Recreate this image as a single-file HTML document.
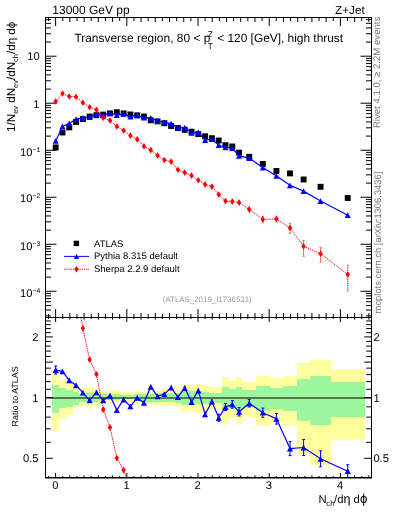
<!DOCTYPE html>
<html><head><meta charset="utf-8"><style>
html,body{margin:0;padding:0;background:#fff;}
body{width:393px;height:512px;overflow:hidden;}
svg{display:block;will-change:transform;}
text{font-family:"Liberation Sans",sans-serif;text-rendering:geometricPrecision;}
</style></head><body>
<svg width="393" height="512" viewBox="0 0 393 512">
<g shape-rendering="crispEdges"><rect x="52.29" y="373.3" width="6.79" height="57.3" fill="#ffff9e"/><rect x="59.08" y="380" width="6.79" height="39" fill="#ffff9e"/><rect x="65.88" y="382.9" width="6.79" height="31.8" fill="#ffff9e"/><rect x="72.67" y="386.4" width="6.79" height="22" fill="#ffff9e"/><rect x="79.46" y="388.1" width="6.79" height="17.9" fill="#ffff9e"/><rect x="86.25" y="388.3" width="6.79" height="18.4" fill="#ffff9e"/><rect x="93.04" y="388.5" width="6.79" height="16.9" fill="#ffff9e"/><rect x="99.84" y="391.2" width="6.79" height="12.3" fill="#ffff9e"/><rect x="106.63" y="391.2" width="6.79" height="12.3" fill="#ffff9e"/><rect x="113.42" y="390.2" width="6.79" height="12.1" fill="#ffff9e"/><rect x="120.21" y="392.1" width="6.79" height="9.5" fill="#ffff9e"/><rect x="127" y="392.1" width="6.79" height="9.5" fill="#ffff9e"/><rect x="133.8" y="391.5" width="6.79" height="12.1" fill="#ffff9e"/><rect x="140.59" y="391.5" width="6.79" height="12.1" fill="#ffff9e"/><rect x="147.38" y="390.9" width="6.79" height="12.7" fill="#ffff9e"/><rect x="154.17" y="390.5" width="6.79" height="14.4" fill="#ffff9e"/><rect x="160.96" y="389" width="6.79" height="17.2" fill="#ffff9e"/><rect x="167.76" y="389" width="6.79" height="17.2" fill="#ffff9e"/><rect x="174.55" y="389" width="6.79" height="17.8" fill="#ffff9e"/><rect x="181.34" y="385.8" width="6.79" height="25.7" fill="#ffff9e"/><rect x="188.13" y="384.5" width="6.79" height="26.7" fill="#ffff9e"/><rect x="194.92" y="383.7" width="6.79" height="29" fill="#ffff9e"/><rect x="201.72" y="385.3" width="6.79" height="24.4" fill="#ffff9e"/><rect x="208.51" y="387" width="6.79" height="22.2" fill="#ffff9e"/><rect x="215.3" y="387" width="6.79" height="22.2" fill="#ffff9e"/><rect x="222.09" y="377.1" width="6.79" height="46.4" fill="#ffff9e"/><rect x="228.88" y="380.9" width="6.79" height="37.5" fill="#ffff9e"/><rect x="235.68" y="377.1" width="6.79" height="46.4" fill="#ffff9e"/><rect x="242.47" y="382.2" width="13.58" height="35" fill="#ffff9e"/><rect x="256.05" y="376" width="13.58" height="50.2" fill="#ffff9e"/><rect x="269.64" y="378" width="13.58" height="44.3" fill="#ffff9e"/><rect x="283.22" y="375.7" width="13.58" height="50.4" fill="#ffff9e"/><rect x="296.8" y="363.4" width="13.58" height="90.5" fill="#ffff9e"/><rect x="310.39" y="360.3" width="20.38" height="104.6" fill="#ffff9e"/><rect x="330.76" y="369.1" width="33.96" height="70.9" fill="#ffff9e"/><rect x="52.29" y="384.9" width="6.79" height="27.9" fill="#9cf79c"/><rect x="59.08" y="388.2" width="6.79" height="19.9" fill="#9cf79c"/><rect x="65.88" y="390.1" width="6.79" height="16.5" fill="#9cf79c"/><rect x="72.67" y="392" width="6.79" height="12.5" fill="#9cf79c"/><rect x="79.46" y="392.9" width="6.79" height="9.1" fill="#9cf79c"/><rect x="86.25" y="392.8" width="6.79" height="9.5" fill="#9cf79c"/><rect x="93.04" y="393" width="6.79" height="9" fill="#9cf79c"/><rect x="99.84" y="394" width="6.79" height="6.4" fill="#9cf79c"/><rect x="106.63" y="394" width="6.79" height="6.4" fill="#9cf79c"/><rect x="113.42" y="394" width="6.79" height="5.7" fill="#9cf79c"/><rect x="120.21" y="395" width="6.79" height="4.1" fill="#9cf79c"/><rect x="127" y="395" width="6.79" height="4.1" fill="#9cf79c"/><rect x="133.8" y="393.8" width="6.79" height="7.3" fill="#9cf79c"/><rect x="140.59" y="393.8" width="6.79" height="7.3" fill="#9cf79c"/><rect x="147.38" y="393.5" width="6.79" height="8" fill="#9cf79c"/><rect x="154.17" y="393" width="6.79" height="9" fill="#9cf79c"/><rect x="160.96" y="392.8" width="6.79" height="9.6" fill="#9cf79c"/><rect x="167.76" y="392.8" width="6.79" height="9.6" fill="#9cf79c"/><rect x="174.55" y="392.5" width="6.79" height="10.5" fill="#9cf79c"/><rect x="181.34" y="390.5" width="6.79" height="14.5" fill="#9cf79c"/><rect x="188.13" y="390.6" width="6.79" height="14.5" fill="#9cf79c"/><rect x="194.92" y="391.4" width="6.79" height="13" fill="#9cf79c"/><rect x="201.72" y="392.1" width="6.79" height="11.5" fill="#9cf79c"/><rect x="208.51" y="392.9" width="6.79" height="9.9" fill="#9cf79c"/><rect x="215.3" y="392.9" width="6.79" height="9.9" fill="#9cf79c"/><rect x="222.09" y="387.3" width="6.79" height="22.5" fill="#9cf79c"/><rect x="228.88" y="389.2" width="6.79" height="18.4" fill="#9cf79c"/><rect x="235.68" y="387.3" width="6.79" height="22.5" fill="#9cf79c"/><rect x="242.47" y="389.8" width="13.58" height="17.2" fill="#9cf79c"/><rect x="256.05" y="386.2" width="13.58" height="24.6" fill="#9cf79c"/><rect x="269.64" y="387.6" width="13.58" height="21.7" fill="#9cf79c"/><rect x="283.22" y="386.4" width="13.58" height="24.4" fill="#9cf79c"/><rect x="296.8" y="378.9" width="13.58" height="42.5" fill="#9cf79c"/><rect x="310.39" y="376.4" width="20.38" height="48.9" fill="#9cf79c"/><rect x="330.76" y="381.8" width="33.96" height="34.7" fill="#9cf79c"/></g>
<line x1="45.5" y1="398" x2="371.5" y2="398" stroke="#000" stroke-width="1"/>
<g><line x1="45.5" y1="315.89" x2="51" y2="315.89" stroke="#000" stroke-width="1"/><line x1="371.5" y1="315.89" x2="366" y2="315.89" stroke="#000" stroke-width="1"/><line x1="45.5" y1="310.01" x2="51" y2="310.01" stroke="#000" stroke-width="1"/><line x1="371.5" y1="310.01" x2="366" y2="310.01" stroke="#000" stroke-width="1"/><line x1="45.5" y1="305.45" x2="51" y2="305.45" stroke="#000" stroke-width="1"/><line x1="371.5" y1="305.45" x2="366" y2="305.45" stroke="#000" stroke-width="1"/><line x1="45.5" y1="301.73" x2="51" y2="301.73" stroke="#000" stroke-width="1"/><line x1="371.5" y1="301.73" x2="366" y2="301.73" stroke="#000" stroke-width="1"/><line x1="45.5" y1="298.58" x2="51" y2="298.58" stroke="#000" stroke-width="1"/><line x1="371.5" y1="298.58" x2="366" y2="298.58" stroke="#000" stroke-width="1"/><line x1="45.5" y1="295.86" x2="51" y2="295.86" stroke="#000" stroke-width="1"/><line x1="371.5" y1="295.86" x2="366" y2="295.86" stroke="#000" stroke-width="1"/><line x1="45.5" y1="293.45" x2="51" y2="293.45" stroke="#000" stroke-width="1"/><line x1="371.5" y1="293.45" x2="366" y2="293.45" stroke="#000" stroke-width="1"/><line x1="45.5" y1="291.3" x2="56.5" y2="291.3" stroke="#000" stroke-width="1"/><line x1="371.5" y1="291.3" x2="360.5" y2="291.3" stroke="#000" stroke-width="1"/><line x1="45.5" y1="277.15" x2="51" y2="277.15" stroke="#000" stroke-width="1"/><line x1="371.5" y1="277.15" x2="366" y2="277.15" stroke="#000" stroke-width="1"/><line x1="45.5" y1="268.87" x2="51" y2="268.87" stroke="#000" stroke-width="1"/><line x1="371.5" y1="268.87" x2="366" y2="268.87" stroke="#000" stroke-width="1"/><line x1="45.5" y1="262.99" x2="51" y2="262.99" stroke="#000" stroke-width="1"/><line x1="371.5" y1="262.99" x2="366" y2="262.99" stroke="#000" stroke-width="1"/><line x1="45.5" y1="258.43" x2="51" y2="258.43" stroke="#000" stroke-width="1"/><line x1="371.5" y1="258.43" x2="366" y2="258.43" stroke="#000" stroke-width="1"/><line x1="45.5" y1="254.71" x2="51" y2="254.71" stroke="#000" stroke-width="1"/><line x1="371.5" y1="254.71" x2="366" y2="254.71" stroke="#000" stroke-width="1"/><line x1="45.5" y1="251.56" x2="51" y2="251.56" stroke="#000" stroke-width="1"/><line x1="371.5" y1="251.56" x2="366" y2="251.56" stroke="#000" stroke-width="1"/><line x1="45.5" y1="248.84" x2="51" y2="248.84" stroke="#000" stroke-width="1"/><line x1="371.5" y1="248.84" x2="366" y2="248.84" stroke="#000" stroke-width="1"/><line x1="45.5" y1="246.43" x2="51" y2="246.43" stroke="#000" stroke-width="1"/><line x1="371.5" y1="246.43" x2="366" y2="246.43" stroke="#000" stroke-width="1"/><line x1="45.5" y1="244.28" x2="56.5" y2="244.28" stroke="#000" stroke-width="1"/><line x1="371.5" y1="244.28" x2="360.5" y2="244.28" stroke="#000" stroke-width="1"/><line x1="45.5" y1="230.13" x2="51" y2="230.13" stroke="#000" stroke-width="1"/><line x1="371.5" y1="230.13" x2="366" y2="230.13" stroke="#000" stroke-width="1"/><line x1="45.5" y1="221.85" x2="51" y2="221.85" stroke="#000" stroke-width="1"/><line x1="371.5" y1="221.85" x2="366" y2="221.85" stroke="#000" stroke-width="1"/><line x1="45.5" y1="215.97" x2="51" y2="215.97" stroke="#000" stroke-width="1"/><line x1="371.5" y1="215.97" x2="366" y2="215.97" stroke="#000" stroke-width="1"/><line x1="45.5" y1="211.41" x2="51" y2="211.41" stroke="#000" stroke-width="1"/><line x1="371.5" y1="211.41" x2="366" y2="211.41" stroke="#000" stroke-width="1"/><line x1="45.5" y1="207.69" x2="51" y2="207.69" stroke="#000" stroke-width="1"/><line x1="371.5" y1="207.69" x2="366" y2="207.69" stroke="#000" stroke-width="1"/><line x1="45.5" y1="204.54" x2="51" y2="204.54" stroke="#000" stroke-width="1"/><line x1="371.5" y1="204.54" x2="366" y2="204.54" stroke="#000" stroke-width="1"/><line x1="45.5" y1="201.82" x2="51" y2="201.82" stroke="#000" stroke-width="1"/><line x1="371.5" y1="201.82" x2="366" y2="201.82" stroke="#000" stroke-width="1"/><line x1="45.5" y1="199.41" x2="51" y2="199.41" stroke="#000" stroke-width="1"/><line x1="371.5" y1="199.41" x2="366" y2="199.41" stroke="#000" stroke-width="1"/><line x1="45.5" y1="197.26" x2="56.5" y2="197.26" stroke="#000" stroke-width="1"/><line x1="371.5" y1="197.26" x2="360.5" y2="197.26" stroke="#000" stroke-width="1"/><line x1="45.5" y1="183.11" x2="51" y2="183.11" stroke="#000" stroke-width="1"/><line x1="371.5" y1="183.11" x2="366" y2="183.11" stroke="#000" stroke-width="1"/><line x1="45.5" y1="174.83" x2="51" y2="174.83" stroke="#000" stroke-width="1"/><line x1="371.5" y1="174.83" x2="366" y2="174.83" stroke="#000" stroke-width="1"/><line x1="45.5" y1="168.95" x2="51" y2="168.95" stroke="#000" stroke-width="1"/><line x1="371.5" y1="168.95" x2="366" y2="168.95" stroke="#000" stroke-width="1"/><line x1="45.5" y1="164.39" x2="51" y2="164.39" stroke="#000" stroke-width="1"/><line x1="371.5" y1="164.39" x2="366" y2="164.39" stroke="#000" stroke-width="1"/><line x1="45.5" y1="160.67" x2="51" y2="160.67" stroke="#000" stroke-width="1"/><line x1="371.5" y1="160.67" x2="366" y2="160.67" stroke="#000" stroke-width="1"/><line x1="45.5" y1="157.52" x2="51" y2="157.52" stroke="#000" stroke-width="1"/><line x1="371.5" y1="157.52" x2="366" y2="157.52" stroke="#000" stroke-width="1"/><line x1="45.5" y1="154.8" x2="51" y2="154.8" stroke="#000" stroke-width="1"/><line x1="371.5" y1="154.8" x2="366" y2="154.8" stroke="#000" stroke-width="1"/><line x1="45.5" y1="152.39" x2="51" y2="152.39" stroke="#000" stroke-width="1"/><line x1="371.5" y1="152.39" x2="366" y2="152.39" stroke="#000" stroke-width="1"/><line x1="45.5" y1="150.24" x2="56.5" y2="150.24" stroke="#000" stroke-width="1"/><line x1="371.5" y1="150.24" x2="360.5" y2="150.24" stroke="#000" stroke-width="1"/><line x1="45.5" y1="136.09" x2="51" y2="136.09" stroke="#000" stroke-width="1"/><line x1="371.5" y1="136.09" x2="366" y2="136.09" stroke="#000" stroke-width="1"/><line x1="45.5" y1="127.81" x2="51" y2="127.81" stroke="#000" stroke-width="1"/><line x1="371.5" y1="127.81" x2="366" y2="127.81" stroke="#000" stroke-width="1"/><line x1="45.5" y1="121.93" x2="51" y2="121.93" stroke="#000" stroke-width="1"/><line x1="371.5" y1="121.93" x2="366" y2="121.93" stroke="#000" stroke-width="1"/><line x1="45.5" y1="117.37" x2="51" y2="117.37" stroke="#000" stroke-width="1"/><line x1="371.5" y1="117.37" x2="366" y2="117.37" stroke="#000" stroke-width="1"/><line x1="45.5" y1="113.65" x2="51" y2="113.65" stroke="#000" stroke-width="1"/><line x1="371.5" y1="113.65" x2="366" y2="113.65" stroke="#000" stroke-width="1"/><line x1="45.5" y1="110.5" x2="51" y2="110.5" stroke="#000" stroke-width="1"/><line x1="371.5" y1="110.5" x2="366" y2="110.5" stroke="#000" stroke-width="1"/><line x1="45.5" y1="107.78" x2="51" y2="107.78" stroke="#000" stroke-width="1"/><line x1="371.5" y1="107.78" x2="366" y2="107.78" stroke="#000" stroke-width="1"/><line x1="45.5" y1="105.37" x2="51" y2="105.37" stroke="#000" stroke-width="1"/><line x1="371.5" y1="105.37" x2="366" y2="105.37" stroke="#000" stroke-width="1"/><line x1="45.5" y1="103.22" x2="56.5" y2="103.22" stroke="#000" stroke-width="1"/><line x1="371.5" y1="103.22" x2="360.5" y2="103.22" stroke="#000" stroke-width="1"/><line x1="45.5" y1="89.07" x2="51" y2="89.07" stroke="#000" stroke-width="1"/><line x1="371.5" y1="89.07" x2="366" y2="89.07" stroke="#000" stroke-width="1"/><line x1="45.5" y1="80.79" x2="51" y2="80.79" stroke="#000" stroke-width="1"/><line x1="371.5" y1="80.79" x2="366" y2="80.79" stroke="#000" stroke-width="1"/><line x1="45.5" y1="74.91" x2="51" y2="74.91" stroke="#000" stroke-width="1"/><line x1="371.5" y1="74.91" x2="366" y2="74.91" stroke="#000" stroke-width="1"/><line x1="45.5" y1="70.35" x2="51" y2="70.35" stroke="#000" stroke-width="1"/><line x1="371.5" y1="70.35" x2="366" y2="70.35" stroke="#000" stroke-width="1"/><line x1="45.5" y1="66.63" x2="51" y2="66.63" stroke="#000" stroke-width="1"/><line x1="371.5" y1="66.63" x2="366" y2="66.63" stroke="#000" stroke-width="1"/><line x1="45.5" y1="63.48" x2="51" y2="63.48" stroke="#000" stroke-width="1"/><line x1="371.5" y1="63.48" x2="366" y2="63.48" stroke="#000" stroke-width="1"/><line x1="45.5" y1="60.76" x2="51" y2="60.76" stroke="#000" stroke-width="1"/><line x1="371.5" y1="60.76" x2="366" y2="60.76" stroke="#000" stroke-width="1"/><line x1="45.5" y1="58.35" x2="51" y2="58.35" stroke="#000" stroke-width="1"/><line x1="371.5" y1="58.35" x2="366" y2="58.35" stroke="#000" stroke-width="1"/><line x1="45.5" y1="56.2" x2="56.5" y2="56.2" stroke="#000" stroke-width="1"/><line x1="371.5" y1="56.2" x2="360.5" y2="56.2" stroke="#000" stroke-width="1"/><line x1="45.5" y1="42.05" x2="51" y2="42.05" stroke="#000" stroke-width="1"/><line x1="371.5" y1="42.05" x2="366" y2="42.05" stroke="#000" stroke-width="1"/><line x1="45.5" y1="33.77" x2="51" y2="33.77" stroke="#000" stroke-width="1"/><line x1="371.5" y1="33.77" x2="366" y2="33.77" stroke="#000" stroke-width="1"/><line x1="45.5" y1="27.89" x2="51" y2="27.89" stroke="#000" stroke-width="1"/><line x1="371.5" y1="27.89" x2="366" y2="27.89" stroke="#000" stroke-width="1"/><line x1="45.5" y1="23.33" x2="51" y2="23.33" stroke="#000" stroke-width="1"/><line x1="371.5" y1="23.33" x2="366" y2="23.33" stroke="#000" stroke-width="1"/><line x1="45.5" y1="19.61" x2="51" y2="19.61" stroke="#000" stroke-width="1"/><line x1="371.5" y1="19.61" x2="366" y2="19.61" stroke="#000" stroke-width="1"/><line x1="48.48" y1="17.5" x2="48.48" y2="21" stroke="#000" stroke-width="1"/><line x1="48.48" y1="317.5" x2="48.48" y2="314" stroke="#000" stroke-width="1"/><line x1="48.48" y1="477.5" x2="48.48" y2="476" stroke="#000" stroke-width="1"/><line x1="48.48" y1="317.5" x2="48.48" y2="319" stroke="#000" stroke-width="1"/><line x1="55.6" y1="17.5" x2="55.6" y2="26" stroke="#000" stroke-width="1"/><line x1="55.6" y1="317.5" x2="55.6" y2="309" stroke="#000" stroke-width="1"/><line x1="55.6" y1="477.5" x2="55.6" y2="473" stroke="#000" stroke-width="1"/><line x1="55.6" y1="317.5" x2="55.6" y2="322" stroke="#000" stroke-width="1"/><line x1="62.72" y1="17.5" x2="62.72" y2="21" stroke="#000" stroke-width="1"/><line x1="62.72" y1="317.5" x2="62.72" y2="314" stroke="#000" stroke-width="1"/><line x1="62.72" y1="477.5" x2="62.72" y2="476" stroke="#000" stroke-width="1"/><line x1="62.72" y1="317.5" x2="62.72" y2="319" stroke="#000" stroke-width="1"/><line x1="69.84" y1="17.5" x2="69.84" y2="22" stroke="#000" stroke-width="1"/><line x1="69.84" y1="317.5" x2="69.84" y2="313" stroke="#000" stroke-width="1"/><line x1="69.84" y1="477.5" x2="69.84" y2="475.3" stroke="#000" stroke-width="1"/><line x1="69.84" y1="317.5" x2="69.84" y2="319.7" stroke="#000" stroke-width="1"/><line x1="76.96" y1="17.5" x2="76.96" y2="21" stroke="#000" stroke-width="1"/><line x1="76.96" y1="317.5" x2="76.96" y2="314" stroke="#000" stroke-width="1"/><line x1="76.96" y1="477.5" x2="76.96" y2="476" stroke="#000" stroke-width="1"/><line x1="76.96" y1="317.5" x2="76.96" y2="319" stroke="#000" stroke-width="1"/><line x1="84.08" y1="17.5" x2="84.08" y2="22" stroke="#000" stroke-width="1"/><line x1="84.08" y1="317.5" x2="84.08" y2="313" stroke="#000" stroke-width="1"/><line x1="84.08" y1="477.5" x2="84.08" y2="475.3" stroke="#000" stroke-width="1"/><line x1="84.08" y1="317.5" x2="84.08" y2="319.7" stroke="#000" stroke-width="1"/><line x1="91.2" y1="17.5" x2="91.2" y2="21" stroke="#000" stroke-width="1"/><line x1="91.2" y1="317.5" x2="91.2" y2="314" stroke="#000" stroke-width="1"/><line x1="91.2" y1="477.5" x2="91.2" y2="476" stroke="#000" stroke-width="1"/><line x1="91.2" y1="317.5" x2="91.2" y2="319" stroke="#000" stroke-width="1"/><line x1="98.32" y1="17.5" x2="98.32" y2="22" stroke="#000" stroke-width="1"/><line x1="98.32" y1="317.5" x2="98.32" y2="313" stroke="#000" stroke-width="1"/><line x1="98.32" y1="477.5" x2="98.32" y2="475.3" stroke="#000" stroke-width="1"/><line x1="98.32" y1="317.5" x2="98.32" y2="319.7" stroke="#000" stroke-width="1"/><line x1="105.44" y1="17.5" x2="105.44" y2="21" stroke="#000" stroke-width="1"/><line x1="105.44" y1="317.5" x2="105.44" y2="314" stroke="#000" stroke-width="1"/><line x1="105.44" y1="477.5" x2="105.44" y2="476" stroke="#000" stroke-width="1"/><line x1="105.44" y1="317.5" x2="105.44" y2="319" stroke="#000" stroke-width="1"/><line x1="112.56" y1="17.5" x2="112.56" y2="22" stroke="#000" stroke-width="1"/><line x1="112.56" y1="317.5" x2="112.56" y2="313" stroke="#000" stroke-width="1"/><line x1="112.56" y1="477.5" x2="112.56" y2="475.3" stroke="#000" stroke-width="1"/><line x1="112.56" y1="317.5" x2="112.56" y2="319.7" stroke="#000" stroke-width="1"/><line x1="119.68" y1="17.5" x2="119.68" y2="21" stroke="#000" stroke-width="1"/><line x1="119.68" y1="317.5" x2="119.68" y2="314" stroke="#000" stroke-width="1"/><line x1="119.68" y1="477.5" x2="119.68" y2="476" stroke="#000" stroke-width="1"/><line x1="119.68" y1="317.5" x2="119.68" y2="319" stroke="#000" stroke-width="1"/><line x1="126.8" y1="17.5" x2="126.8" y2="26" stroke="#000" stroke-width="1"/><line x1="126.8" y1="317.5" x2="126.8" y2="309" stroke="#000" stroke-width="1"/><line x1="126.8" y1="477.5" x2="126.8" y2="473" stroke="#000" stroke-width="1"/><line x1="126.8" y1="317.5" x2="126.8" y2="322" stroke="#000" stroke-width="1"/><line x1="133.92" y1="17.5" x2="133.92" y2="21" stroke="#000" stroke-width="1"/><line x1="133.92" y1="317.5" x2="133.92" y2="314" stroke="#000" stroke-width="1"/><line x1="133.92" y1="477.5" x2="133.92" y2="476" stroke="#000" stroke-width="1"/><line x1="133.92" y1="317.5" x2="133.92" y2="319" stroke="#000" stroke-width="1"/><line x1="141.04" y1="17.5" x2="141.04" y2="22" stroke="#000" stroke-width="1"/><line x1="141.04" y1="317.5" x2="141.04" y2="313" stroke="#000" stroke-width="1"/><line x1="141.04" y1="477.5" x2="141.04" y2="475.3" stroke="#000" stroke-width="1"/><line x1="141.04" y1="317.5" x2="141.04" y2="319.7" stroke="#000" stroke-width="1"/><line x1="148.16" y1="17.5" x2="148.16" y2="21" stroke="#000" stroke-width="1"/><line x1="148.16" y1="317.5" x2="148.16" y2="314" stroke="#000" stroke-width="1"/><line x1="148.16" y1="477.5" x2="148.16" y2="476" stroke="#000" stroke-width="1"/><line x1="148.16" y1="317.5" x2="148.16" y2="319" stroke="#000" stroke-width="1"/><line x1="155.28" y1="17.5" x2="155.28" y2="22" stroke="#000" stroke-width="1"/><line x1="155.28" y1="317.5" x2="155.28" y2="313" stroke="#000" stroke-width="1"/><line x1="155.28" y1="477.5" x2="155.28" y2="475.3" stroke="#000" stroke-width="1"/><line x1="155.28" y1="317.5" x2="155.28" y2="319.7" stroke="#000" stroke-width="1"/><line x1="162.4" y1="17.5" x2="162.4" y2="21" stroke="#000" stroke-width="1"/><line x1="162.4" y1="317.5" x2="162.4" y2="314" stroke="#000" stroke-width="1"/><line x1="162.4" y1="477.5" x2="162.4" y2="476" stroke="#000" stroke-width="1"/><line x1="162.4" y1="317.5" x2="162.4" y2="319" stroke="#000" stroke-width="1"/><line x1="169.52" y1="17.5" x2="169.52" y2="22" stroke="#000" stroke-width="1"/><line x1="169.52" y1="317.5" x2="169.52" y2="313" stroke="#000" stroke-width="1"/><line x1="169.52" y1="477.5" x2="169.52" y2="475.3" stroke="#000" stroke-width="1"/><line x1="169.52" y1="317.5" x2="169.52" y2="319.7" stroke="#000" stroke-width="1"/><line x1="176.64" y1="17.5" x2="176.64" y2="21" stroke="#000" stroke-width="1"/><line x1="176.64" y1="317.5" x2="176.64" y2="314" stroke="#000" stroke-width="1"/><line x1="176.64" y1="477.5" x2="176.64" y2="476" stroke="#000" stroke-width="1"/><line x1="176.64" y1="317.5" x2="176.64" y2="319" stroke="#000" stroke-width="1"/><line x1="183.76" y1="17.5" x2="183.76" y2="22" stroke="#000" stroke-width="1"/><line x1="183.76" y1="317.5" x2="183.76" y2="313" stroke="#000" stroke-width="1"/><line x1="183.76" y1="477.5" x2="183.76" y2="475.3" stroke="#000" stroke-width="1"/><line x1="183.76" y1="317.5" x2="183.76" y2="319.7" stroke="#000" stroke-width="1"/><line x1="190.88" y1="17.5" x2="190.88" y2="21" stroke="#000" stroke-width="1"/><line x1="190.88" y1="317.5" x2="190.88" y2="314" stroke="#000" stroke-width="1"/><line x1="190.88" y1="477.5" x2="190.88" y2="476" stroke="#000" stroke-width="1"/><line x1="190.88" y1="317.5" x2="190.88" y2="319" stroke="#000" stroke-width="1"/><line x1="198" y1="17.5" x2="198" y2="26" stroke="#000" stroke-width="1"/><line x1="198" y1="317.5" x2="198" y2="309" stroke="#000" stroke-width="1"/><line x1="198" y1="477.5" x2="198" y2="473" stroke="#000" stroke-width="1"/><line x1="198" y1="317.5" x2="198" y2="322" stroke="#000" stroke-width="1"/><line x1="205.12" y1="17.5" x2="205.12" y2="21" stroke="#000" stroke-width="1"/><line x1="205.12" y1="317.5" x2="205.12" y2="314" stroke="#000" stroke-width="1"/><line x1="205.12" y1="477.5" x2="205.12" y2="476" stroke="#000" stroke-width="1"/><line x1="205.12" y1="317.5" x2="205.12" y2="319" stroke="#000" stroke-width="1"/><line x1="212.24" y1="17.5" x2="212.24" y2="22" stroke="#000" stroke-width="1"/><line x1="212.24" y1="317.5" x2="212.24" y2="313" stroke="#000" stroke-width="1"/><line x1="212.24" y1="477.5" x2="212.24" y2="475.3" stroke="#000" stroke-width="1"/><line x1="212.24" y1="317.5" x2="212.24" y2="319.7" stroke="#000" stroke-width="1"/><line x1="219.36" y1="17.5" x2="219.36" y2="21" stroke="#000" stroke-width="1"/><line x1="219.36" y1="317.5" x2="219.36" y2="314" stroke="#000" stroke-width="1"/><line x1="219.36" y1="477.5" x2="219.36" y2="476" stroke="#000" stroke-width="1"/><line x1="219.36" y1="317.5" x2="219.36" y2="319" stroke="#000" stroke-width="1"/><line x1="226.48" y1="17.5" x2="226.48" y2="22" stroke="#000" stroke-width="1"/><line x1="226.48" y1="317.5" x2="226.48" y2="313" stroke="#000" stroke-width="1"/><line x1="226.48" y1="477.5" x2="226.48" y2="475.3" stroke="#000" stroke-width="1"/><line x1="226.48" y1="317.5" x2="226.48" y2="319.7" stroke="#000" stroke-width="1"/><line x1="233.6" y1="17.5" x2="233.6" y2="21" stroke="#000" stroke-width="1"/><line x1="233.6" y1="317.5" x2="233.6" y2="314" stroke="#000" stroke-width="1"/><line x1="233.6" y1="477.5" x2="233.6" y2="476" stroke="#000" stroke-width="1"/><line x1="233.6" y1="317.5" x2="233.6" y2="319" stroke="#000" stroke-width="1"/><line x1="240.72" y1="17.5" x2="240.72" y2="22" stroke="#000" stroke-width="1"/><line x1="240.72" y1="317.5" x2="240.72" y2="313" stroke="#000" stroke-width="1"/><line x1="240.72" y1="477.5" x2="240.72" y2="475.3" stroke="#000" stroke-width="1"/><line x1="240.72" y1="317.5" x2="240.72" y2="319.7" stroke="#000" stroke-width="1"/><line x1="247.84" y1="17.5" x2="247.84" y2="21" stroke="#000" stroke-width="1"/><line x1="247.84" y1="317.5" x2="247.84" y2="314" stroke="#000" stroke-width="1"/><line x1="247.84" y1="477.5" x2="247.84" y2="476" stroke="#000" stroke-width="1"/><line x1="247.84" y1="317.5" x2="247.84" y2="319" stroke="#000" stroke-width="1"/><line x1="254.96" y1="17.5" x2="254.96" y2="22" stroke="#000" stroke-width="1"/><line x1="254.96" y1="317.5" x2="254.96" y2="313" stroke="#000" stroke-width="1"/><line x1="254.96" y1="477.5" x2="254.96" y2="475.3" stroke="#000" stroke-width="1"/><line x1="254.96" y1="317.5" x2="254.96" y2="319.7" stroke="#000" stroke-width="1"/><line x1="262.08" y1="17.5" x2="262.08" y2="21" stroke="#000" stroke-width="1"/><line x1="262.08" y1="317.5" x2="262.08" y2="314" stroke="#000" stroke-width="1"/><line x1="262.08" y1="477.5" x2="262.08" y2="476" stroke="#000" stroke-width="1"/><line x1="262.08" y1="317.5" x2="262.08" y2="319" stroke="#000" stroke-width="1"/><line x1="269.2" y1="17.5" x2="269.2" y2="26" stroke="#000" stroke-width="1"/><line x1="269.2" y1="317.5" x2="269.2" y2="309" stroke="#000" stroke-width="1"/><line x1="269.2" y1="477.5" x2="269.2" y2="473" stroke="#000" stroke-width="1"/><line x1="269.2" y1="317.5" x2="269.2" y2="322" stroke="#000" stroke-width="1"/><line x1="276.32" y1="17.5" x2="276.32" y2="21" stroke="#000" stroke-width="1"/><line x1="276.32" y1="317.5" x2="276.32" y2="314" stroke="#000" stroke-width="1"/><line x1="276.32" y1="477.5" x2="276.32" y2="476" stroke="#000" stroke-width="1"/><line x1="276.32" y1="317.5" x2="276.32" y2="319" stroke="#000" stroke-width="1"/><line x1="283.44" y1="17.5" x2="283.44" y2="22" stroke="#000" stroke-width="1"/><line x1="283.44" y1="317.5" x2="283.44" y2="313" stroke="#000" stroke-width="1"/><line x1="283.44" y1="477.5" x2="283.44" y2="475.3" stroke="#000" stroke-width="1"/><line x1="283.44" y1="317.5" x2="283.44" y2="319.7" stroke="#000" stroke-width="1"/><line x1="290.56" y1="17.5" x2="290.56" y2="21" stroke="#000" stroke-width="1"/><line x1="290.56" y1="317.5" x2="290.56" y2="314" stroke="#000" stroke-width="1"/><line x1="290.56" y1="477.5" x2="290.56" y2="476" stroke="#000" stroke-width="1"/><line x1="290.56" y1="317.5" x2="290.56" y2="319" stroke="#000" stroke-width="1"/><line x1="297.68" y1="17.5" x2="297.68" y2="22" stroke="#000" stroke-width="1"/><line x1="297.68" y1="317.5" x2="297.68" y2="313" stroke="#000" stroke-width="1"/><line x1="297.68" y1="477.5" x2="297.68" y2="475.3" stroke="#000" stroke-width="1"/><line x1="297.68" y1="317.5" x2="297.68" y2="319.7" stroke="#000" stroke-width="1"/><line x1="304.8" y1="17.5" x2="304.8" y2="21" stroke="#000" stroke-width="1"/><line x1="304.8" y1="317.5" x2="304.8" y2="314" stroke="#000" stroke-width="1"/><line x1="304.8" y1="477.5" x2="304.8" y2="476" stroke="#000" stroke-width="1"/><line x1="304.8" y1="317.5" x2="304.8" y2="319" stroke="#000" stroke-width="1"/><line x1="311.92" y1="17.5" x2="311.92" y2="22" stroke="#000" stroke-width="1"/><line x1="311.92" y1="317.5" x2="311.92" y2="313" stroke="#000" stroke-width="1"/><line x1="311.92" y1="477.5" x2="311.92" y2="475.3" stroke="#000" stroke-width="1"/><line x1="311.92" y1="317.5" x2="311.92" y2="319.7" stroke="#000" stroke-width="1"/><line x1="319.04" y1="17.5" x2="319.04" y2="21" stroke="#000" stroke-width="1"/><line x1="319.04" y1="317.5" x2="319.04" y2="314" stroke="#000" stroke-width="1"/><line x1="319.04" y1="477.5" x2="319.04" y2="476" stroke="#000" stroke-width="1"/><line x1="319.04" y1="317.5" x2="319.04" y2="319" stroke="#000" stroke-width="1"/><line x1="326.16" y1="17.5" x2="326.16" y2="22" stroke="#000" stroke-width="1"/><line x1="326.16" y1="317.5" x2="326.16" y2="313" stroke="#000" stroke-width="1"/><line x1="326.16" y1="477.5" x2="326.16" y2="475.3" stroke="#000" stroke-width="1"/><line x1="326.16" y1="317.5" x2="326.16" y2="319.7" stroke="#000" stroke-width="1"/><line x1="333.28" y1="17.5" x2="333.28" y2="21" stroke="#000" stroke-width="1"/><line x1="333.28" y1="317.5" x2="333.28" y2="314" stroke="#000" stroke-width="1"/><line x1="333.28" y1="477.5" x2="333.28" y2="476" stroke="#000" stroke-width="1"/><line x1="333.28" y1="317.5" x2="333.28" y2="319" stroke="#000" stroke-width="1"/><line x1="340.4" y1="17.5" x2="340.4" y2="26" stroke="#000" stroke-width="1"/><line x1="340.4" y1="317.5" x2="340.4" y2="309" stroke="#000" stroke-width="1"/><line x1="340.4" y1="477.5" x2="340.4" y2="473" stroke="#000" stroke-width="1"/><line x1="340.4" y1="317.5" x2="340.4" y2="322" stroke="#000" stroke-width="1"/><line x1="347.52" y1="17.5" x2="347.52" y2="21" stroke="#000" stroke-width="1"/><line x1="347.52" y1="317.5" x2="347.52" y2="314" stroke="#000" stroke-width="1"/><line x1="347.52" y1="477.5" x2="347.52" y2="476" stroke="#000" stroke-width="1"/><line x1="347.52" y1="317.5" x2="347.52" y2="319" stroke="#000" stroke-width="1"/><line x1="354.64" y1="17.5" x2="354.64" y2="22" stroke="#000" stroke-width="1"/><line x1="354.64" y1="317.5" x2="354.64" y2="313" stroke="#000" stroke-width="1"/><line x1="354.64" y1="477.5" x2="354.64" y2="475.3" stroke="#000" stroke-width="1"/><line x1="354.64" y1="317.5" x2="354.64" y2="319.7" stroke="#000" stroke-width="1"/><line x1="361.76" y1="17.5" x2="361.76" y2="21" stroke="#000" stroke-width="1"/><line x1="361.76" y1="317.5" x2="361.76" y2="314" stroke="#000" stroke-width="1"/><line x1="361.76" y1="477.5" x2="361.76" y2="476" stroke="#000" stroke-width="1"/><line x1="361.76" y1="317.5" x2="361.76" y2="319" stroke="#000" stroke-width="1"/><line x1="368.88" y1="17.5" x2="368.88" y2="22" stroke="#000" stroke-width="1"/><line x1="368.88" y1="317.5" x2="368.88" y2="313" stroke="#000" stroke-width="1"/><line x1="368.88" y1="477.5" x2="368.88" y2="475.3" stroke="#000" stroke-width="1"/><line x1="368.88" y1="317.5" x2="368.88" y2="319.7" stroke="#000" stroke-width="1"/><line x1="45.5" y1="458.29" x2="52.8" y2="458.29" stroke="#000" stroke-width="1"/><line x1="371.5" y1="458.29" x2="364.2" y2="458.29" stroke="#000" stroke-width="1"/><line x1="45.5" y1="442.32" x2="50.8" y2="442.32" stroke="#000" stroke-width="1"/><line x1="371.5" y1="442.32" x2="366.2" y2="442.32" stroke="#000" stroke-width="1"/><line x1="45.5" y1="428.83" x2="50.8" y2="428.83" stroke="#000" stroke-width="1"/><line x1="371.5" y1="428.83" x2="366.2" y2="428.83" stroke="#000" stroke-width="1"/><line x1="45.5" y1="417.14" x2="50.8" y2="417.14" stroke="#000" stroke-width="1"/><line x1="371.5" y1="417.14" x2="366.2" y2="417.14" stroke="#000" stroke-width="1"/><line x1="45.5" y1="406.82" x2="50.8" y2="406.82" stroke="#000" stroke-width="1"/><line x1="371.5" y1="406.82" x2="366.2" y2="406.82" stroke="#000" stroke-width="1"/><line x1="45.5" y1="397.6" x2="52.8" y2="397.6" stroke="#000" stroke-width="1"/><line x1="371.5" y1="397.6" x2="364.2" y2="397.6" stroke="#000" stroke-width="1"/><line x1="45.5" y1="389.26" x2="50.8" y2="389.26" stroke="#000" stroke-width="1"/><line x1="371.5" y1="389.26" x2="366.2" y2="389.26" stroke="#000" stroke-width="1"/><line x1="45.5" y1="381.64" x2="50.8" y2="381.64" stroke="#000" stroke-width="1"/><line x1="371.5" y1="381.64" x2="366.2" y2="381.64" stroke="#000" stroke-width="1"/><line x1="45.5" y1="374.63" x2="50.8" y2="374.63" stroke="#000" stroke-width="1"/><line x1="371.5" y1="374.63" x2="366.2" y2="374.63" stroke="#000" stroke-width="1"/><line x1="45.5" y1="368.14" x2="50.8" y2="368.14" stroke="#000" stroke-width="1"/><line x1="371.5" y1="368.14" x2="366.2" y2="368.14" stroke="#000" stroke-width="1"/><line x1="45.5" y1="362.1" x2="52.8" y2="362.1" stroke="#000" stroke-width="1"/><line x1="371.5" y1="362.1" x2="364.2" y2="362.1" stroke="#000" stroke-width="1"/><line x1="45.5" y1="356.45" x2="50.8" y2="356.45" stroke="#000" stroke-width="1"/><line x1="371.5" y1="356.45" x2="366.2" y2="356.45" stroke="#000" stroke-width="1"/><line x1="45.5" y1="351.14" x2="50.8" y2="351.14" stroke="#000" stroke-width="1"/><line x1="371.5" y1="351.14" x2="366.2" y2="351.14" stroke="#000" stroke-width="1"/><line x1="45.5" y1="346.14" x2="50.8" y2="346.14" stroke="#000" stroke-width="1"/><line x1="371.5" y1="346.14" x2="366.2" y2="346.14" stroke="#000" stroke-width="1"/><line x1="45.5" y1="341.4" x2="50.8" y2="341.4" stroke="#000" stroke-width="1"/><line x1="371.5" y1="341.4" x2="366.2" y2="341.4" stroke="#000" stroke-width="1"/><line x1="45.5" y1="336.91" x2="52.8" y2="336.91" stroke="#000" stroke-width="1"/><line x1="371.5" y1="336.91" x2="364.2" y2="336.91" stroke="#000" stroke-width="1"/><line x1="45.5" y1="332.64" x2="50.8" y2="332.64" stroke="#000" stroke-width="1"/><line x1="371.5" y1="332.64" x2="366.2" y2="332.64" stroke="#000" stroke-width="1"/><line x1="45.5" y1="328.57" x2="50.8" y2="328.57" stroke="#000" stroke-width="1"/><line x1="371.5" y1="328.57" x2="366.2" y2="328.57" stroke="#000" stroke-width="1"/><line x1="45.5" y1="324.68" x2="50.8" y2="324.68" stroke="#000" stroke-width="1"/><line x1="371.5" y1="324.68" x2="366.2" y2="324.68" stroke="#000" stroke-width="1"/><line x1="45.5" y1="320.95" x2="50.8" y2="320.95" stroke="#000" stroke-width="1"/><line x1="371.5" y1="320.95" x2="366.2" y2="320.95" stroke="#000" stroke-width="1"/></g>
<rect x="45.5" y="17.5" width="326" height="300" fill="none" stroke="#000" stroke-width="1"/>
<rect x="45.5" y="317.5" width="326" height="160" fill="none" stroke="#000" stroke-width="1"/>
<line x1="45" y1="477.9" x2="372" y2="477.9" stroke="#000" stroke-width="1.2"/>
<defs><clipPath id="cm"><rect x="45.5" y="17.5" width="326" height="300"/></clipPath><clipPath id="cr"><rect x="45.5" y="317.5" width="326" height="160"/></clipPath></defs>
<g clip-path="url(#cm)"><rect x="52.74" y="144.45" width="5.9" height="5.9" fill="#000"/><rect x="59.53" y="129.55" width="5.9" height="5.9" fill="#000"/><rect x="66.32" y="124.45" width="5.9" height="5.9" fill="#000"/><rect x="73.11" y="118.95" width="5.9" height="5.9" fill="#000"/><rect x="79.91" y="116.15" width="5.9" height="5.9" fill="#000"/><rect x="86.7" y="113.55" width="5.9" height="5.9" fill="#000"/><rect x="93.49" y="112.25" width="5.9" height="5.9" fill="#000"/><rect x="100.28" y="111.65" width="5.9" height="5.9" fill="#000"/><rect x="107.07" y="110.45" width="5.9" height="5.9" fill="#000"/><rect x="113.87" y="109.25" width="5.9" height="5.9" fill="#000"/><rect x="120.66" y="110.45" width="5.9" height="5.9" fill="#000"/><rect x="127.45" y="111.55" width="5.9" height="5.9" fill="#000"/><rect x="134.24" y="112.35" width="5.9" height="5.9" fill="#000"/><rect x="141.03" y="113.55" width="5.9" height="5.9" fill="#000"/><rect x="147.83" y="117.35" width="5.9" height="5.9" fill="#000"/><rect x="154.62" y="118.45" width="5.9" height="5.9" fill="#000"/><rect x="161.41" y="120.25" width="5.9" height="5.9" fill="#000"/><rect x="168.2" y="123.05" width="5.9" height="5.9" fill="#000"/><rect x="174.99" y="125.05" width="5.9" height="5.9" fill="#000"/><rect x="181.79" y="126.85" width="5.9" height="5.9" fill="#000"/><rect x="188.58" y="128.75" width="5.9" height="5.9" fill="#000"/><rect x="195.37" y="131.15" width="5.9" height="5.9" fill="#000"/><rect x="202.16" y="133.35" width="5.9" height="5.9" fill="#000"/><rect x="208.95" y="135.25" width="5.9" height="5.9" fill="#000"/><rect x="215.75" y="137.55" width="5.9" height="5.9" fill="#000"/><rect x="222.54" y="142.25" width="5.9" height="5.9" fill="#000"/><rect x="229.33" y="143.55" width="5.9" height="5.9" fill="#000"/><rect x="236.12" y="149.65" width="5.9" height="5.9" fill="#000"/><rect x="246.31" y="153.85" width="5.9" height="5.9" fill="#000"/><rect x="259.89" y="161.05" width="5.9" height="5.9" fill="#000"/><rect x="273.48" y="168.05" width="5.9" height="5.9" fill="#000"/><rect x="287.06" y="170.45" width="5.9" height="5.9" fill="#000"/><rect x="300.65" y="176.55" width="5.9" height="5.9" fill="#000"/><rect x="317.63" y="183.85" width="5.9" height="5.9" fill="#000"/><rect x="344.79" y="195.05" width="5.9" height="5.9" fill="#000"/><polyline points="55.69,140.96 62.48,126.37 69.27,123.39 76.06,119.03 82.86,117.93 89.65,117.13 96.44,113.99 103.23,115.23 110.02,112.96 116.82,115.12 123.61,113.84 130.4,116.53 137.19,115.37 143.98,117.71 150.78,117.78 157.57,121.1 164.36,122.38 171.15,123.67 177.94,127.91 184.74,127.56 191.53,132.75 198.32,132.47 205.11,140.2 211.9,139.13 218.7,145.21 225.49,147.39 232.28,148.09 239.07,155.91 249.26,158.13 262.84,167.52 276.43,175.94 290.01,185.29 303.6,191.14 320.58,201.07 347.74,215.17" fill="none" stroke="#00f" stroke-width="1.2"/><path d="M52.64 143.86L58.74 143.86L55.69 138.07Z" fill="#00f"/><path d="M59.43 129.26L65.53 129.26L62.48 123.47Z" fill="#00f"/><path d="M66.22 126.29L72.32 126.29L69.27 120.49Z" fill="#00f"/><path d="M73.01 121.93L79.11 121.93L76.06 116.13Z" fill="#00f"/><path d="M79.81 120.83L85.91 120.83L82.86 115.04Z" fill="#00f"/><path d="M86.6 120.03L92.7 120.03L89.65 114.23Z" fill="#00f"/><path d="M93.39 116.88L99.49 116.88L96.44 111.09Z" fill="#00f"/><path d="M100.18 118.13L106.28 118.13L103.23 112.33Z" fill="#00f"/><path d="M106.97 115.85L113.07 115.85L110.02 110.06Z" fill="#00f"/><path d="M113.77 118.01L119.87 118.01L116.82 112.22Z" fill="#00f"/><path d="M120.56 116.74L126.66 116.74L123.61 110.95Z" fill="#00f"/><path d="M127.35 119.43L133.45 119.43L130.4 113.63Z" fill="#00f"/><path d="M134.14 118.27L140.24 118.27L137.19 112.47Z" fill="#00f"/><path d="M140.93 120.61L147.03 120.61L143.98 114.82Z" fill="#00f"/><path d="M147.73 120.68L153.83 120.68L150.78 114.88Z" fill="#00f"/><path d="M154.52 123.99L160.62 123.99L157.57 118.2Z" fill="#00f"/><path d="M161.31 125.28L167.41 125.28L164.36 119.49Z" fill="#00f"/><path d="M168.1 126.57L174.2 126.57L171.15 120.77Z" fill="#00f"/><path d="M174.89 130.8L180.99 130.8L177.94 125.01Z" fill="#00f"/><path d="M181.69 130.46L187.79 130.46L184.74 124.66Z" fill="#00f"/><path d="M188.48 135.65L194.58 135.65L191.53 129.85Z" fill="#00f"/><path d="M195.27 135.36L201.37 135.36L198.32 129.57Z" fill="#00f"/><path d="M202.06 143.09L208.16 143.09L205.11 137.3Z" fill="#00f"/><path d="M208.85 142.03L214.95 142.03L211.9 136.24Z" fill="#00f"/><path d="M215.65 148.11L221.75 148.11L218.7 142.31Z" fill="#00f"/><path d="M222.44 150.29L228.54 150.29L225.49 144.49Z" fill="#00f"/><path d="M229.23 150.98L235.33 150.98L232.28 145.19Z" fill="#00f"/><path d="M236.02 158.81L242.12 158.81L239.07 153.01Z" fill="#00f"/><path d="M246.21 161.03L252.31 161.03L249.26 155.23Z" fill="#00f"/><path d="M259.79 170.42L265.89 170.42L262.84 164.62Z" fill="#00f"/><path d="M273.38 178.84L279.48 178.84L276.43 173.05Z" fill="#00f"/><path d="M286.96 188.19L293.06 188.19L290.01 182.4Z" fill="#00f"/><path d="M300.55 194.04L306.65 194.04L303.6 188.24Z" fill="#00f"/><path d="M317.53 203.97L323.63 203.97L320.58 198.18Z" fill="#00f"/><path d="M344.69 218.06L350.79 218.06L347.74 212.27Z" fill="#00f"/><polyline points="55.69,101.5 62.48,93.5 69.27,96.5 76.06,96.7 82.86,102.8 89.65,107.3 96.44,109.7 103.23,117.6 110.02,120.5 116.82,126.5 123.61,130.5 130.4,135.6 137.19,139.4 143.98,146.3 150.78,150.1 157.57,155.5 164.36,160 171.15,161.6 177.94,169.8 184.74,172.6 191.53,175.6 198.32,180.2 205.11,184.4 211.9,186.6 218.7,194.5 225.49,201 232.28,201.5 239.07,202.6 249.26,209.4 262.84,219.4 276.43,219 290.01,227.9 303.6,246.2 320.58,253.7 347.74,274.5" fill="none" stroke="#f00" stroke-width="1" stroke-dasharray="1.3,0.9"/><line x1="225.49" y1="199.5" x2="225.49" y2="202.5" stroke="#f00" stroke-width="1" stroke-dasharray="1.3,0.9"/><line x1="232.28" y1="200" x2="232.28" y2="203" stroke="#f00" stroke-width="1" stroke-dasharray="1.3,0.9"/><line x1="239.07" y1="200.6" x2="239.07" y2="204.6" stroke="#f00" stroke-width="1" stroke-dasharray="1.3,0.9"/><line x1="249.26" y1="206.9" x2="249.26" y2="212.2" stroke="#f00" stroke-width="1" stroke-dasharray="1.3,0.9"/><line x1="262.84" y1="216.4" x2="262.84" y2="222.9" stroke="#f00" stroke-width="1" stroke-dasharray="1.3,0.9"/><line x1="261.74" y1="216.4" x2="263.94" y2="216.4" stroke="#f00" stroke-width="0.6" stroke-dasharray="0.8,0.6"/><line x1="261.74" y1="222.9" x2="263.94" y2="222.9" stroke="#f00" stroke-width="0.6" stroke-dasharray="0.8,0.6"/><line x1="276.43" y1="216" x2="276.43" y2="222.5" stroke="#f00" stroke-width="1" stroke-dasharray="1.3,0.9"/><line x1="275.33" y1="216" x2="277.53" y2="216" stroke="#f00" stroke-width="0.6" stroke-dasharray="0.8,0.6"/><line x1="275.33" y1="222.5" x2="277.53" y2="222.5" stroke="#f00" stroke-width="0.6" stroke-dasharray="0.8,0.6"/><line x1="290.01" y1="223.3" x2="290.01" y2="233.2" stroke="#f00" stroke-width="1" stroke-dasharray="1.3,0.9"/><line x1="288.91" y1="223.3" x2="291.11" y2="223.3" stroke="#f00" stroke-width="0.6" stroke-dasharray="0.8,0.6"/><line x1="288.91" y1="233.2" x2="291.11" y2="233.2" stroke="#f00" stroke-width="0.6" stroke-dasharray="0.8,0.6"/><line x1="303.6" y1="240.3" x2="303.6" y2="256.4" stroke="#f00" stroke-width="1" stroke-dasharray="1.3,0.9"/><line x1="302.5" y1="240.3" x2="304.7" y2="240.3" stroke="#f00" stroke-width="0.6" stroke-dasharray="0.8,0.6"/><line x1="302.5" y1="256.4" x2="304.7" y2="256.4" stroke="#f00" stroke-width="0.6" stroke-dasharray="0.8,0.6"/><line x1="320.58" y1="247.5" x2="320.58" y2="262.6" stroke="#f00" stroke-width="1" stroke-dasharray="1.3,0.9"/><line x1="319.48" y1="247.5" x2="321.68" y2="247.5" stroke="#f00" stroke-width="0.6" stroke-dasharray="0.8,0.6"/><line x1="319.48" y1="262.6" x2="321.68" y2="262.6" stroke="#f00" stroke-width="0.6" stroke-dasharray="0.8,0.6"/><line x1="347.74" y1="265.3" x2="347.74" y2="291.1" stroke="#f00" stroke-width="1" stroke-dasharray="1.3,0.9"/><line x1="346.64" y1="265.3" x2="348.84" y2="265.3" stroke="#f00" stroke-width="0.6" stroke-dasharray="0.8,0.6"/><line x1="346.64" y1="291.1" x2="348.84" y2="291.1" stroke="#f00" stroke-width="0.6" stroke-dasharray="0.8,0.6"/><path d="M55.69 98.2L57.89 101.5L55.69 104.8L53.49 101.5Z" fill="#f00"/><path d="M62.48 90.2L64.68 93.5L62.48 96.8L60.28 93.5Z" fill="#f00"/><path d="M69.27 93.2L71.47 96.5L69.27 99.8L67.07 96.5Z" fill="#f00"/><path d="M76.06 93.4L78.26 96.7L76.06 100L73.86 96.7Z" fill="#f00"/><path d="M82.86 99.5L85.06 102.8L82.86 106.1L80.66 102.8Z" fill="#f00"/><path d="M89.65 104L91.85 107.3L89.65 110.6L87.45 107.3Z" fill="#f00"/><path d="M96.44 106.4L98.64 109.7L96.44 113L94.24 109.7Z" fill="#f00"/><path d="M103.23 114.3L105.43 117.6L103.23 120.9L101.03 117.6Z" fill="#f00"/><path d="M110.02 117.2L112.22 120.5L110.02 123.8L107.82 120.5Z" fill="#f00"/><path d="M116.82 123.2L119.02 126.5L116.82 129.8L114.62 126.5Z" fill="#f00"/><path d="M123.61 127.2L125.81 130.5L123.61 133.8L121.41 130.5Z" fill="#f00"/><path d="M130.4 132.3L132.6 135.6L130.4 138.9L128.2 135.6Z" fill="#f00"/><path d="M137.19 136.1L139.39 139.4L137.19 142.7L134.99 139.4Z" fill="#f00"/><path d="M143.98 143L146.18 146.3L143.98 149.6L141.78 146.3Z" fill="#f00"/><path d="M150.78 146.8L152.98 150.1L150.78 153.4L148.58 150.1Z" fill="#f00"/><path d="M157.57 152.2L159.77 155.5L157.57 158.8L155.37 155.5Z" fill="#f00"/><path d="M164.36 156.7L166.56 160L164.36 163.3L162.16 160Z" fill="#f00"/><path d="M171.15 158.3L173.35 161.6L171.15 164.9L168.95 161.6Z" fill="#f00"/><path d="M177.94 166.5L180.14 169.8L177.94 173.1L175.74 169.8Z" fill="#f00"/><path d="M184.74 169.3L186.94 172.6L184.74 175.9L182.54 172.6Z" fill="#f00"/><path d="M191.53 172.3L193.73 175.6L191.53 178.9L189.33 175.6Z" fill="#f00"/><path d="M198.32 176.9L200.52 180.2L198.32 183.5L196.12 180.2Z" fill="#f00"/><path d="M205.11 181.1L207.31 184.4L205.11 187.7L202.91 184.4Z" fill="#f00"/><path d="M211.9 183.3L214.1 186.6L211.9 189.9L209.7 186.6Z" fill="#f00"/><path d="M218.7 191.2L220.9 194.5L218.7 197.8L216.5 194.5Z" fill="#f00"/><path d="M225.49 197.7L227.69 201L225.49 204.3L223.29 201Z" fill="#f00"/><path d="M232.28 198.2L234.48 201.5L232.28 204.8L230.08 201.5Z" fill="#f00"/><path d="M239.07 199.3L241.27 202.6L239.07 205.9L236.87 202.6Z" fill="#f00"/><path d="M249.26 206.1L251.46 209.4L249.26 212.7L247.06 209.4Z" fill="#f00"/><path d="M262.84 216.1L265.04 219.4L262.84 222.7L260.64 219.4Z" fill="#f00"/><path d="M276.43 215.7L278.63 219L276.43 222.3L274.23 219Z" fill="#f00"/><path d="M290.01 224.6L292.21 227.9L290.01 231.2L287.81 227.9Z" fill="#f00"/><path d="M303.6 242.9L305.8 246.2L303.6 249.5L301.4 246.2Z" fill="#f00"/><path d="M320.58 250.4L322.78 253.7L320.58 257L318.38 253.7Z" fill="#f00"/><path d="M347.74 271.2L349.94 274.5L347.74 277.8L345.54 274.5Z" fill="#f00"/></g>
<g clip-path="url(#cr)"><polyline points="76.06,289.5 82.86,328.3 89.65,359.5 96.44,374.2 103.23,409.6 110.02,427.4 116.82,458.1 123.61,470.1 130.4,488" fill="none" stroke="#f00" stroke-width="1" stroke-dasharray="1.3,0.9"/><path d="M76.06 286.2L78.26 289.5L76.06 292.8L73.86 289.5Z" fill="#f00"/><path d="M82.86 325L85.06 328.3L82.86 331.6L80.66 328.3Z" fill="#f00"/><path d="M89.65 356.2L91.85 359.5L89.65 362.8L87.45 359.5Z" fill="#f00"/><path d="M96.44 370.9L98.64 374.2L96.44 377.5L94.24 374.2Z" fill="#f00"/><path d="M103.23 406.3L105.43 409.6L103.23 412.9L101.03 409.6Z" fill="#f00"/><path d="M110.02 424.1L112.22 427.4L110.02 430.7L107.82 427.4Z" fill="#f00"/><path d="M116.82 454.8L119.02 458.1L116.82 461.4L114.62 458.1Z" fill="#f00"/><path d="M123.61 466.8L125.81 470.1L123.61 473.4L121.41 470.1Z" fill="#f00"/><path d="M130.4 484.7L132.6 488L130.4 491.3L128.2 488Z" fill="#f00"/><polyline points="55.69,370 62.48,371.3 69.27,380.4 76.06,385.3 82.86,392.6 89.65,400.3 96.44,392.4 103.23,400.3 110.02,395.7 116.82,410.1 123.61,399.5 130.4,406.3 137.19,397.9 143.98,402.8 150.78,386.8 157.57,396.3 164.36,394.1 171.15,387.6 177.94,397.2 184.74,388 191.53,402.1 198.32,390.6 205.11,414.3 211.9,401.6 218.7,417.8 225.49,407 232.28,404.4 239.07,411.8 249.26,403.3 262.84,412.7 276.43,418.8 290.01,448.6 303.6,447.5 320.58,458.8 347.74,471.2" fill="none" stroke="#00f" stroke-width="1.2"/><line x1="55.69" y1="366" x2="55.69" y2="374" stroke="#00f" stroke-width="1"/><line x1="54.19" y1="366" x2="57.19" y2="366" stroke="#00f" stroke-width="1"/><line x1="54.19" y1="374" x2="57.19" y2="374" stroke="#00f" stroke-width="1"/><line x1="62.48" y1="369.3" x2="62.48" y2="373.3" stroke="#00f" stroke-width="1"/><line x1="69.27" y1="378.4" x2="69.27" y2="382.4" stroke="#00f" stroke-width="1"/><line x1="76.06" y1="383.3" x2="76.06" y2="387.3" stroke="#00f" stroke-width="1"/><line x1="82.86" y1="390.6" x2="82.86" y2="394.6" stroke="#00f" stroke-width="1"/><line x1="89.65" y1="398.3" x2="89.65" y2="402.3" stroke="#00f" stroke-width="1"/><line x1="96.44" y1="390.4" x2="96.44" y2="394.4" stroke="#00f" stroke-width="1"/><line x1="103.23" y1="398.3" x2="103.23" y2="402.3" stroke="#00f" stroke-width="1"/><line x1="110.02" y1="393.7" x2="110.02" y2="397.7" stroke="#00f" stroke-width="1"/><line x1="116.82" y1="408.1" x2="116.82" y2="412.1" stroke="#00f" stroke-width="1"/><line x1="123.61" y1="397.5" x2="123.61" y2="401.5" stroke="#00f" stroke-width="1"/><line x1="130.4" y1="404.3" x2="130.4" y2="408.3" stroke="#00f" stroke-width="1"/><line x1="137.19" y1="395.9" x2="137.19" y2="399.9" stroke="#00f" stroke-width="1"/><line x1="143.98" y1="400.8" x2="143.98" y2="404.8" stroke="#00f" stroke-width="1"/><line x1="150.78" y1="384.8" x2="150.78" y2="388.8" stroke="#00f" stroke-width="1"/><line x1="157.57" y1="394.3" x2="157.57" y2="398.3" stroke="#00f" stroke-width="1"/><line x1="164.36" y1="392.1" x2="164.36" y2="396.1" stroke="#00f" stroke-width="1"/><line x1="171.15" y1="385.6" x2="171.15" y2="389.6" stroke="#00f" stroke-width="1"/><line x1="177.94" y1="395.2" x2="177.94" y2="399.2" stroke="#00f" stroke-width="1"/><line x1="184.74" y1="385.5" x2="184.74" y2="390.5" stroke="#00f" stroke-width="1"/><line x1="191.53" y1="399.6" x2="191.53" y2="404.6" stroke="#00f" stroke-width="1"/><line x1="198.32" y1="388.1" x2="198.32" y2="393.1" stroke="#00f" stroke-width="1"/><line x1="205.11" y1="411.3" x2="205.11" y2="417.3" stroke="#00f" stroke-width="1"/><line x1="211.9" y1="398.6" x2="211.9" y2="404.6" stroke="#00f" stroke-width="1"/><line x1="218.7" y1="414.3" x2="218.7" y2="421.3" stroke="#00f" stroke-width="1"/><line x1="217.2" y1="414.3" x2="220.2" y2="414.3" stroke="#00f" stroke-width="1"/><line x1="217.2" y1="421.3" x2="220.2" y2="421.3" stroke="#00f" stroke-width="1"/><line x1="225.49" y1="403.5" x2="225.49" y2="410.5" stroke="#00f" stroke-width="1"/><line x1="223.99" y1="403.5" x2="226.99" y2="403.5" stroke="#00f" stroke-width="1"/><line x1="223.99" y1="410.5" x2="226.99" y2="410.5" stroke="#00f" stroke-width="1"/><line x1="232.28" y1="400.6" x2="232.28" y2="408.2" stroke="#00f" stroke-width="1"/><line x1="230.78" y1="400.6" x2="233.78" y2="400.6" stroke="#00f" stroke-width="1"/><line x1="230.78" y1="408.2" x2="233.78" y2="408.2" stroke="#00f" stroke-width="1"/><line x1="239.07" y1="407.6" x2="239.07" y2="416" stroke="#00f" stroke-width="1"/><line x1="237.57" y1="407.6" x2="240.57" y2="407.6" stroke="#00f" stroke-width="1"/><line x1="237.57" y1="416" x2="240.57" y2="416" stroke="#00f" stroke-width="1"/><line x1="249.26" y1="399.6" x2="249.26" y2="407" stroke="#00f" stroke-width="1"/><line x1="247.76" y1="399.6" x2="250.76" y2="399.6" stroke="#00f" stroke-width="1"/><line x1="247.76" y1="407" x2="250.76" y2="407" stroke="#00f" stroke-width="1"/><line x1="262.84" y1="408.1" x2="262.84" y2="417.3" stroke="#00f" stroke-width="1"/><line x1="261.34" y1="408.1" x2="264.34" y2="408.1" stroke="#00f" stroke-width="1"/><line x1="261.34" y1="417.3" x2="264.34" y2="417.3" stroke="#00f" stroke-width="1"/><line x1="276.43" y1="413.5" x2="276.43" y2="424.1" stroke="#00f" stroke-width="1"/><line x1="274.93" y1="413.5" x2="277.93" y2="413.5" stroke="#00f" stroke-width="1"/><line x1="274.93" y1="424.1" x2="277.93" y2="424.1" stroke="#00f" stroke-width="1"/><line x1="290.01" y1="441.6" x2="290.01" y2="455.6" stroke="#00f" stroke-width="1"/><line x1="288.51" y1="441.6" x2="291.51" y2="441.6" stroke="#00f" stroke-width="1"/><line x1="288.51" y1="455.6" x2="291.51" y2="455.6" stroke="#00f" stroke-width="1"/><line x1="303.6" y1="439.5" x2="303.6" y2="455.5" stroke="#00f" stroke-width="1"/><line x1="302.1" y1="439.5" x2="305.1" y2="439.5" stroke="#00f" stroke-width="1"/><line x1="302.1" y1="455.5" x2="305.1" y2="455.5" stroke="#00f" stroke-width="1"/><line x1="320.58" y1="450.8" x2="320.58" y2="466.8" stroke="#00f" stroke-width="1"/><line x1="319.08" y1="450.8" x2="322.08" y2="450.8" stroke="#00f" stroke-width="1"/><line x1="319.08" y1="466.8" x2="322.08" y2="466.8" stroke="#00f" stroke-width="1"/><line x1="347.74" y1="464.7" x2="347.74" y2="477.7" stroke="#00f" stroke-width="1"/><line x1="346.24" y1="464.7" x2="349.24" y2="464.7" stroke="#00f" stroke-width="1"/><line x1="346.24" y1="477.7" x2="349.24" y2="477.7" stroke="#00f" stroke-width="1"/><path d="M52.64 372.9L58.74 372.9L55.69 367.1Z" fill="#00f"/><path d="M59.43 374.2L65.53 374.2L62.48 368.4Z" fill="#00f"/><path d="M66.22 383.3L72.32 383.3L69.27 377.5Z" fill="#00f"/><path d="M73.01 388.2L79.11 388.2L76.06 382.4Z" fill="#00f"/><path d="M79.81 395.5L85.91 395.5L82.86 389.7Z" fill="#00f"/><path d="M86.6 403.2L92.7 403.2L89.65 397.4Z" fill="#00f"/><path d="M93.39 395.3L99.49 395.3L96.44 389.5Z" fill="#00f"/><path d="M100.18 403.2L106.28 403.2L103.23 397.4Z" fill="#00f"/><path d="M106.97 398.6L113.07 398.6L110.02 392.8Z" fill="#00f"/><path d="M113.77 413L119.87 413L116.82 407.2Z" fill="#00f"/><path d="M120.56 402.4L126.66 402.4L123.61 396.6Z" fill="#00f"/><path d="M127.35 409.2L133.45 409.2L130.4 403.4Z" fill="#00f"/><path d="M134.14 400.8L140.24 400.8L137.19 395Z" fill="#00f"/><path d="M140.93 405.7L147.03 405.7L143.98 399.9Z" fill="#00f"/><path d="M147.73 389.7L153.83 389.7L150.78 383.9Z" fill="#00f"/><path d="M154.52 399.2L160.62 399.2L157.57 393.4Z" fill="#00f"/><path d="M161.31 397L167.41 397L164.36 391.2Z" fill="#00f"/><path d="M168.1 390.5L174.2 390.5L171.15 384.7Z" fill="#00f"/><path d="M174.89 400.1L180.99 400.1L177.94 394.3Z" fill="#00f"/><path d="M181.69 390.9L187.79 390.9L184.74 385.1Z" fill="#00f"/><path d="M188.48 405L194.58 405L191.53 399.2Z" fill="#00f"/><path d="M195.27 393.5L201.37 393.5L198.32 387.7Z" fill="#00f"/><path d="M202.06 417.2L208.16 417.2L205.11 411.4Z" fill="#00f"/><path d="M208.85 404.5L214.95 404.5L211.9 398.7Z" fill="#00f"/><path d="M215.65 420.7L221.75 420.7L218.7 414.9Z" fill="#00f"/><path d="M222.44 409.9L228.54 409.9L225.49 404.1Z" fill="#00f"/><path d="M229.23 407.3L235.33 407.3L232.28 401.5Z" fill="#00f"/><path d="M236.02 414.7L242.12 414.7L239.07 408.9Z" fill="#00f"/><path d="M246.21 406.2L252.31 406.2L249.26 400.4Z" fill="#00f"/><path d="M259.79 415.6L265.89 415.6L262.84 409.8Z" fill="#00f"/><path d="M273.38 421.7L279.48 421.7L276.43 415.9Z" fill="#00f"/><path d="M286.96 451.5L293.06 451.5L290.01 445.7Z" fill="#00f"/><path d="M300.55 450.4L306.65 450.4L303.6 444.6Z" fill="#00f"/><path d="M317.53 461.7L323.63 461.7L320.58 455.9Z" fill="#00f"/><path d="M344.69 474.1L350.79 474.1L347.74 468.3Z" fill="#00f"/></g>
<rect x="73.7" y="240.7" width="5.4" height="5.4" fill="#000"/><line x1="64" y1="256.4" x2="89" y2="256.4" stroke="#00f" stroke-width="1"/><path d="M73.8 259.06L79.2 259.06L76.5 253.94Z" fill="#00f"/><line x1="64" y1="269.2" x2="89" y2="269.2" stroke="#f00" stroke-width="1" stroke-dasharray="1.3,0.9"/><path d="M76.5 266L78.7 269.3L76.5 272.6L74.3 269.3Z" fill="#f00"/><text x="94" y="246.9" font-size="9.5" fill="#000">ATLAS</text><text x="94" y="258.8" font-size="9.5" fill="#000">Pythia 8.315 default</text><text x="94" y="271.7" font-size="9.5" fill="#000">Sherpa 2.2.9 default</text>
<text x="52.3" y="13.8" font-size="12">13000 GeV pp</text><text x="364.8" y="13.8" font-size="11.8" text-anchor="end">Z+Jet</text><text x="74.4" y="41.8" font-size="11.95">Transverse region, 80 &lt; p</text><text x="207.7" y="36.5" font-size="8.2">Z</text><text x="207.7" y="48.7" font-size="8.2">T</text><text x="217.2" y="41.8" font-size="11.9">&lt; 120 [GeV], high thrust</text>
<text x="162.8" y="301.6" font-size="7.9" fill="#999">(ATLAS_2019_I1736531)</text>
<text x="39.8" y="60.1" font-size="11.2" text-anchor="end">10</text><text x="39.5" y="108" font-size="11.2" text-anchor="end">1</text><text x="40.3" y="155.8" font-size="11.2" text-anchor="end">10<tspan dy="-4.3" font-size="6.8">&#8722;1</tspan></text><text x="40.3" y="202.1" font-size="11.2" text-anchor="end">10<tspan dy="-4.3" font-size="6.8">&#8722;2</tspan></text><text x="40.3" y="249.9" font-size="11.2" text-anchor="end">10<tspan dy="-4.3" font-size="6.8">&#8722;3</tspan></text><text x="40.3" y="296.9" font-size="11.2" text-anchor="end">10<tspan dy="-4.3" font-size="6.8">&#8722;4</tspan></text><text x="38.5" y="341" font-size="11.2" text-anchor="end">2</text><text x="38.5" y="401.8" font-size="11.2" text-anchor="end">1</text><text x="38.5" y="462.1" font-size="11.2" text-anchor="end">0.5</text>
<text x="373.4" y="341" font-size="11.2">2</text><text x="373.4" y="402.2" font-size="11.2">1</text><text x="373.4" y="462.1" font-size="11.2">0.5</text>
<text x="55.3" y="489.2" font-size="11.2" text-anchor="middle">0</text><text x="126.5" y="489.2" font-size="11.2" text-anchor="middle">1</text><text x="197.7" y="489.2" font-size="11.2" text-anchor="middle">2</text><text x="268.9" y="489.2" font-size="11.2" text-anchor="middle">3</text><text x="340.1" y="489.2" font-size="11.2" text-anchor="middle">4</text><text x="318.4" y="502.6" font-size="11.3">N<tspan dy="3.6" dx="-0.3" font-size="7.8">ch</tspan><tspan dy="-3.6" dx="-0.5">/d</tspan><tspan font-size="12.6">&#951;</tspan><tspan> d</tspan><tspan font-size="13.2">&#981;</tspan></text>
<text transform="translate(14.5,131.9) rotate(-90)" font-size="11.6">1/N<tspan dy="3.5" font-size="7.5">ev</tspan><tspan dy="-3.5"> dN</tspan><tspan dy="3.5" font-size="7.5">ev</tspan><tspan dy="-3.5">/dN</tspan><tspan dy="3.5" font-size="7.5">ch</tspan><tspan dy="-3.5">/d&#951; d&#981;</tspan></text><text transform="translate(18.3,426.4) rotate(-90)" font-size="8.9">Ratio to ATLAS</text>
<text transform="translate(380.4,128.1) rotate(-90)" font-size="9.6" fill="#777">Rivet 4.1.0, &#8805; 2.2M events</text><text transform="translate(380.5,313.4) rotate(-90)" font-size="9.4" fill="#777">mcplots.cern.ch [arXiv:1306.3436]</text>
</svg></body></html>
